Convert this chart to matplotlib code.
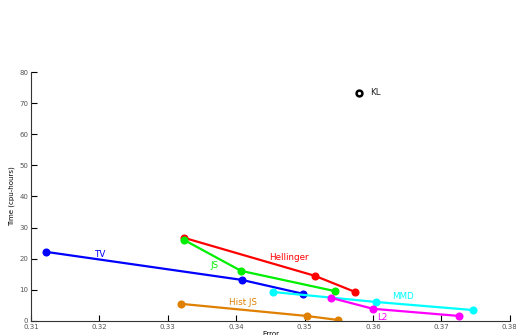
import matplotlib
matplotlib.use('Agg')
import matplotlib.pyplot as plt

# error / time (cpu-hours) per method
tv_x = [0.3122, 0.3408, 0.3498]
tv_y = [22.2, 13.2, 8.7]
hel_x = [0.3324, 0.3515, 0.3574]
hel_y = [26.7, 14.5, 9.3]
js_x = [0.3324, 0.3407, 0.3544]
js_y = [26.0, 16.1, 9.6]
hjs_x = [0.3319, 0.3503, 0.3549]
hjs_y = [5.5, 1.6, 0.3]
mmd_x = [0.3454, 0.3604, 0.3746]
mmd_y = [9.3, 6.1, 3.5]
l2_x = [0.3539, 0.3600, 0.3726]
l2_y = [7.4, 3.9, 1.6]
kl_x = [0.3580]
kl_y = [73.3]

xticks = [0.31, 0.32, 0.33, 0.34, 0.35, 0.36, 0.37, 0.38]
yticks = [0, 10, 20, 30, 40, 50, 60, 70, 80]

fig = plt.figure(figsize=(5.16, 3.35), dpi=100)
ax = fig.add_axes((0.060, 0.042, 0.928, 0.743))

series = [
    (tv_x, tv_y, '#0000ff', 'TV', (0.3201, 21.5)),
    (hel_x, hel_y, '#ff0000', 'Hellinger', (0.3477, 20.3)),
    (js_x, js_y, '#00ee00', 'JS', (0.3368, 17.7)),
    (hjs_x, hjs_y, '#e08000', 'Hist JS', (0.3410, 5.8)),
    (mmd_x, mmd_y, '#00ffff', 'MMD', (0.3644, 7.7)),
    (l2_x, l2_y, '#ff00ff', 'L2', (0.3613, 1.0)),
]
for xs, ys, c, name, pos in series:
    ax.plot(xs, ys, '-o', color=c, lw=1.6, ms=4.8)
    ax.text(pos[0], pos[1], name, color=c, fontsize=6.3, ha='center', va='center')

ax.plot(kl_x, kl_y, 'o', mfc='white', mec='black', mew=1.8, ms=4.2)
ax.text(0.3596, 73.3, 'KL', color='#222222', fontsize=6.3, va='center')

ax.set_xlim(0.31, 0.38)
ax.set_ylim(0, 80)
ax.set_xticks(xticks)
ax.set_xticklabels(['%g' % t for t in xticks])
ax.set_yticks(yticks)
ax.tick_params(direction='in', labelsize=5, labelcolor='#555555', length=4, width=0.8, pad=2)
for s in ['top', 'right']:
    ax.spines[s].set_visible(False)
for s in ['left', 'bottom']:
    ax.spines[s].set_color('#333333')
ax.set_ylabel('Time (cpu-hours)', fontsize=5, labelpad=3)
ax.set_xlabel('Error', fontsize=5, labelpad=1)

fig.savefig('out.png', dpi=100)
